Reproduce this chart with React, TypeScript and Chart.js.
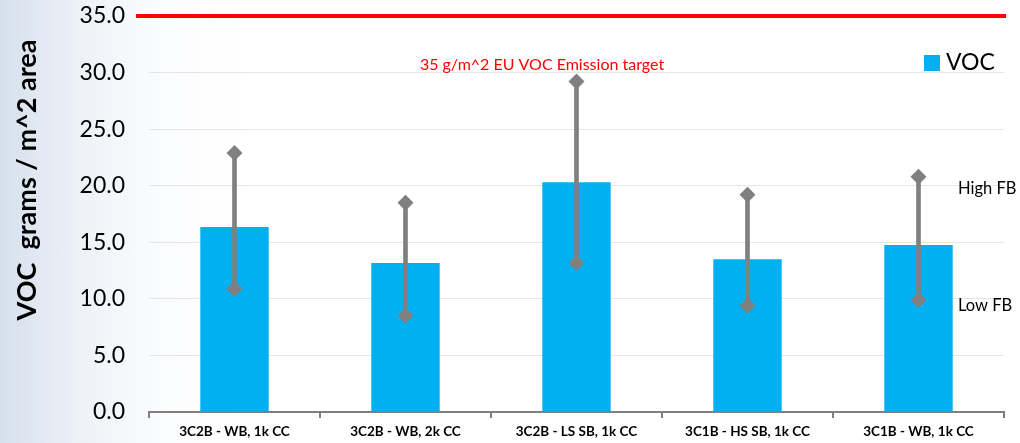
import React, { useEffect, useRef } from "react";
import { Chart, registerables } from "chart.js";

Chart.register(...registerables);

const categories = [
  "3C2B - WB, 1k CC",
  "3C2B - WB, 2k CC",
  "3C2B - LS SB, 1k CC",
  "3C1B - HS SB, 1k CC",
  "3C1B - WB, 1k CC",
];
const vocValues = [16.35, 13.17, 20.3, 13.5, 14.75];
const highFB = [22.9, 18.5, 29.2, 19.2, 20.8];
const lowFB = [10.9, 8.5, 13.2, 9.4, 9.9];
const yTicks = [0, 5, 10, 15, 20, 25, 30, 35];
const targetValue = 35;
const targetLabel = "35 g/m^2 EU VOC Emission target";
const yTitle = "VOC  grams / m^2 area";

const FONT = "Lato, 'Open Sans', sans-serif";
const BLUE = "#00B0F0";
const GRAY = "#808080";

const overlayPlugin = {
  id: "overlay",
  afterDatasetsDraw(chart: any) {
    const { ctx, chartArea, scales } = chart;
    const y = scales.y;
    ctx.save();
    // target line
    const ty = y.getPixelForValue(targetValue);
    ctx.strokeStyle = "#FF0000";
    ctx.lineWidth = 4;
    ctx.beginPath();
    ctx.moveTo(136, ty);
    ctx.lineTo(chartArea.right + 2, ty);
    ctx.stroke();
    // target label
    ctx.fillStyle = "#FF0000";
    ctx.font = `16px ${FONT}`;
    ctx.textAlign = "center";
    ctx.textBaseline = "middle";
    ctx.fillText(targetLabel, 542, 65);
    // high / low labels
    ctx.fillStyle = "#000";
    ctx.textAlign = "left";
    ctx.font = `16.5px ${FONT}`;
    ctx.fillText("High FB", 958, 189);
    ctx.fillText("Low FB", 958, 306);
    // legend
    ctx.fillStyle = BLUE;
    ctx.fillRect(924, 55, 16, 16);
    ctx.fillStyle = "#000";
    ctx.font = `23px ${FONT}`;
    ctx.fillText(chart.data.datasets[0].label, 946, 63);
    // y title
    ctx.translate(27, 180);
    ctx.rotate(-Math.PI / 2);
    ctx.textAlign = "center";
    ctx.font = `bold 27px ${FONT}`;
    ctx.fillText(yTitle, 0, 0);
    ctx.restore();
  },
};

export default function App() {
  const ref = useRef<HTMLCanvasElement>(null);
  useEffect(() => {
    if (!ref.current) return;
    const chart = new Chart(ref.current, {
      type: "bar",
      data: {
        labels: categories,
        datasets: [
          {
            label: "VOC",
            data: vocValues,
            backgroundColor: BLUE,
            barPercentage: 0.4,
            categoryPercentage: 1,
            order: 3,
          } as any,
          {
            label: "range",
            data: categories.map((_, i) => [lowFB[i], highFB[i]]),
            backgroundColor: GRAY,
            barThickness: 4,
            grouped: false,
            order: 2,
          } as any,
          {
            type: "line",
            label: "High FB",
            data: highFB,
            showLine: false,
            pointStyle: "rectRot",
            pointRadius: 8,
            pointBackgroundColor: GRAY,
            pointBorderColor: GRAY,
            pointBorderWidth: 0,
            order: 1,
          } as any,
          {
            type: "line",
            label: "Low FB",
            data: lowFB,
            showLine: false,
            pointStyle: "rectRot",
            pointRadius: 8,
            pointBackgroundColor: GRAY,
            pointBorderColor: GRAY,
            pointBorderWidth: 0,
            order: 1,
          } as any,
        ],
      },
      options: {
        animation: false,
        responsive: false,
        maintainAspectRatio: false,
        layout: { padding: { left: 0, right: 16, top: 16, bottom: 0 } },
        plugins: { legend: { display: false }, tooltip: { enabled: false } },
        scales: {
          x: {
            offset: true,
            grid: {
              offset: true,
              drawOnChartArea: false,
              drawTicks: true,
              tickLength: 6,
              color: GRAY,
              lineWidth: 2,
            },
            border: { display: true, color: GRAY, width: 2 },
            ticks: {
              color: "#000",
              font: { family: FONT, size: 13.5, weight: "bold" },
              padding: 6,
              maxRotation: 0,
              autoSkip: false,
            },
            afterFit: (s: any) => {
              s.height = 31;
            },
          },
          y: {
            min: 0,
            max: 35,
            afterBuildTicks: (s: any) => {
              s.ticks = yTicks.map((v) => ({ value: v }));
            },
            grid: {
              color: "#e6e6e6",
              lineWidth: 1,
              drawTicks: true,
              tickLength: 24,
              tickColor: "rgba(0,0,0,0)",
            },
            border: { display: false },
            ticks: {
              color: "#000",
              font: { family: FONT, size: 23 },
              padding: 0,
              callback: (v: any) => Number(v).toFixed(1),
            },
            afterFit: (s: any) => {
              s.width = 149;
            },
          },
        },
      },
      plugins: [overlayPlugin],
    });
    return () => chart.destroy();
  }, []);
  return (
    <div
      style={{
        position: "fixed",
        left: 0,
        top: 0,
        width: 1020,
        height: 443,
        background:
          "linear-gradient(to right, #d6e0ec 0%, #eef2f8 8%, #fbfcfe 16%, #ffffff 24%)",
      }}
    >
      <canvas ref={ref} width={1020} height={443} style={{ display: "block" }} />
    </div>
  );
}
